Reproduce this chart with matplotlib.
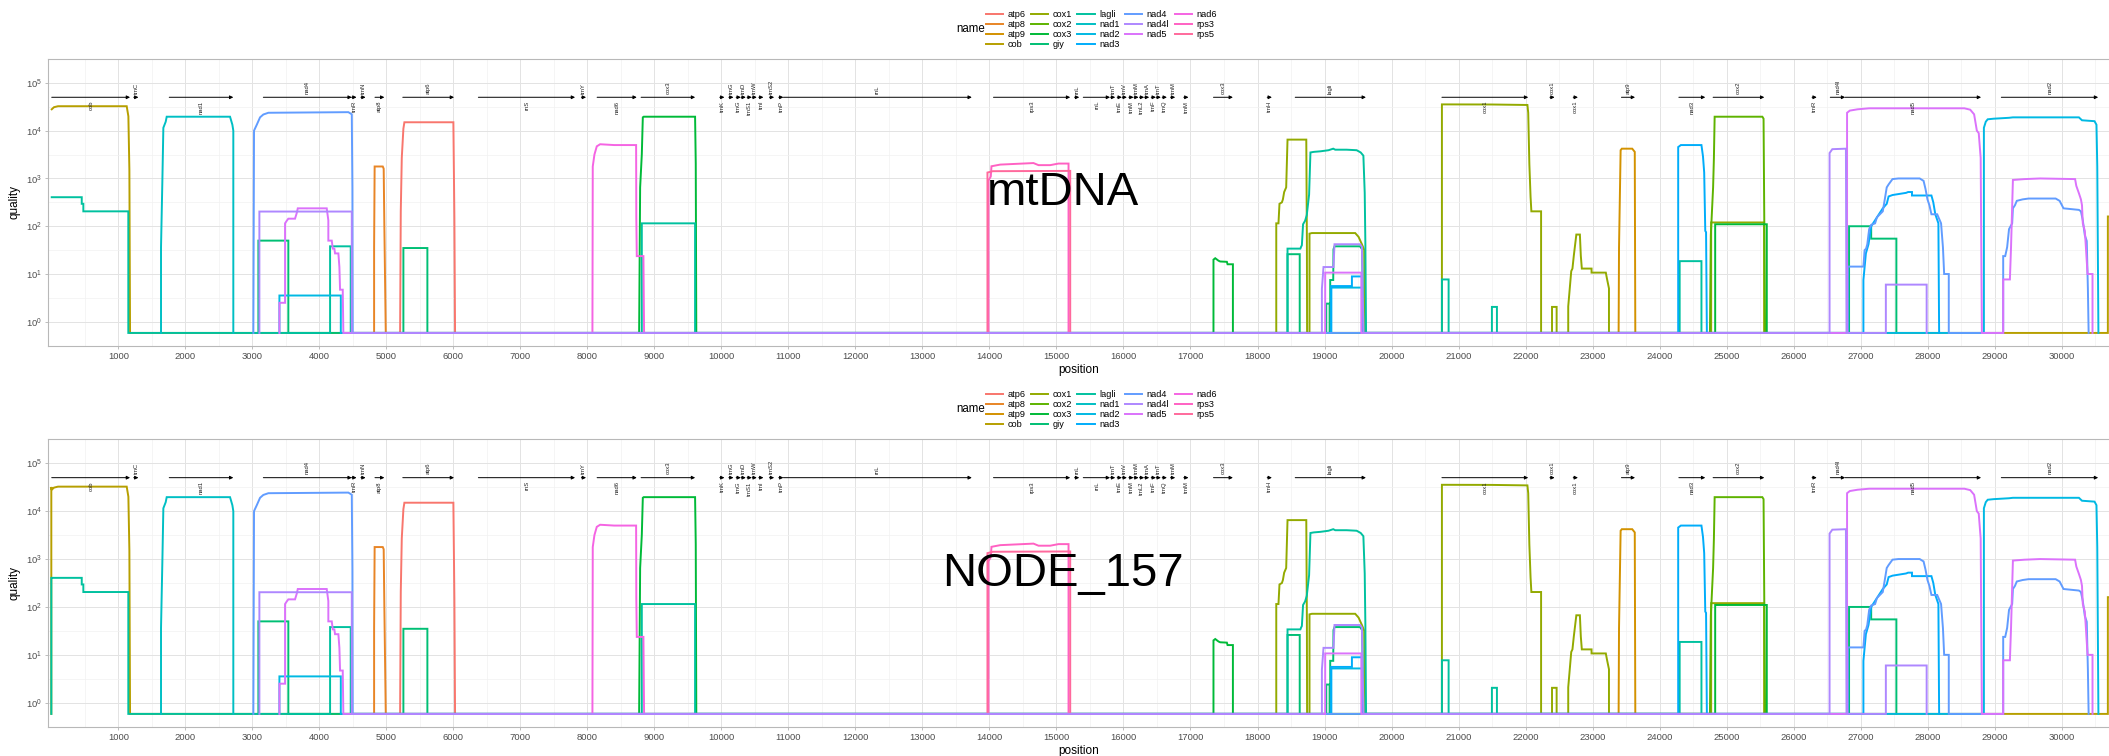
import numpy as np
import matplotlib
matplotlib.use("Agg")
import matplotlib.pyplot as plt
from matplotlib.lines import Line2D

plt.rcParams['font.family'] = ['Liberation Sans', 'DejaVu Sans']
plt.rcParams['mathtext.fontset'] = 'custom'
plt.rcParams['mathtext.rm'] = 'Liberation Sans'
plt.rcParams['mathtext.it'] = 'Liberation Sans:italic'

# quality traces, (position, quality); 0 = no hit (drawn on the panel floor)
atp6 = [(5205, 0), (5215, 205), (5230, 2700), (5254, 11000), (5269, 15000), (6000, 15000),
        (6015, 150), (6025, 0)]
atp8 = [(4817, 0), (4817, 36), (4825, 1780), (4946, 1780), (4960, 1600), (4970, 100), (4991, 0)]
atp9 = [(23389, 0), (23395, 36), (23419, 3900), (23437, 4200), (23592, 4200), (23610, 3900),
        (23630, 3600), (23638, 0)]
cob = [(6, 28000), (40, 31000), (100, 32500), (1125, 32500), (1150, 20000), (1165, 1500), (1175, 0),
       (30690, 0), (30690, 160), (30720, 160)]
cox1 = [(18280, 0), (18280, 115), (18313, 115), (18328, 295), (18364, 316), (18379, 365),
        (18398, 520), (18428, 650), (18448, 6500), (18728, 6500), (18737, 49), (18740, 0),
        (18776, 0), (18776, 70), (18811, 72), (19458, 72), (19508, 60), (19558, 42), (19592, 32),
        (19608, 0),
        (20752, 0), (20752, 35500), (21500, 35300), (22028, 34500), (22040, 23700), (22057, 2000),
        (22075, 410), (22087, 205), (22232, 205), (22232, 0),
        (22395, 0), (22395, 2.05), (22464, 2.05), (22464, 0),
        (22637, 0), (22637, 2.1), (22682, 11.5), (22700, 13), (22720, 24), (22758, 67),
        (22811, 67), (22825, 24), (22840, 13), (22985, 13), (22985, 10.7), (23198, 10.7),
        (23215, 8), (23245, 5), (23245, 0),
        (24770, 0), (24770, 120), (25560, 120), (25560, 0)]
cox2 = [(24752, 0), (24765, 65), (24799, 650), (24811, 2700), (24822, 19600), (25534, 19600),
        (25552, 17800), (25563, 115), (25575, 0)]
cox3 = [(8772, 0), (8787, 650), (8812, 3200), (8827, 19000), (8840, 19600), (9607, 19600),
        (9617, 2050), (9625, 0),
        (17343, 0), (17343, 20), (17369, 21.4), (17418, 19), (17443, 18.3), (17543, 18),
        (17553, 16), (17633, 16), (17633, 0),
        (24830, 0), (24830, 110), (25600, 110), (25600, 0)]
giy = [(3090, 0), (3090, 50), (3537, 50), (3537, 0),
       (5254, 0), (5254, 35), (5612, 35), (5612, 0),
       (18448, 0), (18448, 26), (18630, 26), (18630, 0),
       (19026, 0), (19026, 2.4), (19076, 2.4), (19076, 0),
       (19085, 0), (19085, 7.5), (19130, 7.5), (19134, 33), (19150, 38), (19530, 38),
       (19560, 33), (19585, 0),
       (26828, 0), (26828, 100), (27158, 100), (27158, 55), (27534, 55), (27534, 0)]
lagli = [(6, 405), (454, 405), (454, 295), (478, 295), (478, 205), (1149, 205), (1149, 0),
         (4160, 0), (4160, 38), (4468, 38), (4468, 0),
         (8812, 0), (8812, 115), (9607, 115), (9607, 0),
         (18448, 0), (18448, 34), (18640, 34), (18650, 37), (18662, 40), (18680, 110),
         (18710, 130), (18735, 170), (18770, 460), (18790, 3500), (18840, 3600), (18940, 3700),
         (19060, 3900), (19130, 4200), (19160, 4000), (19330, 4000), (19480, 3900),
         (19540, 3500), (19580, 3000), (19600, 500), (19610, 40), (19620, 0),
         (20752, 0), (20752, 7.7), (20852, 7.7), (20852, 0),
         (21498, 0), (21498, 2.05), (21573, 2.05), (21573, 0),
         (24300, 0), (24300, 18.6), (24625, 18.6), (24625, 0)]
nad1 = [(1637, 0), (1637, 36), (1657, 860), (1672, 11500), (1707, 15400), (1722, 19600),
        (2667, 19600), (2702, 13300), (2716, 10000), (2716, 0)]
nad2 = [(3404, 0), (3404, 3.55), (4320, 3.55), (4320, 0),
        (19100, 0), (19100, 5.2), (19560, 5.2), (19560, 0),
        (28840, 0), (28840, 11500), (28868, 15400), (28897, 17300), (28984, 17800),
        (29215, 18600), (29273, 19000), (30258, 19000), (30304, 16500), (30491, 15800),
        (30520, 13300), (30532, 1780), (30549, 0)]
nad3 = [(19100, 0), (19100, 5.6), (19409, 5.6), (19409, 8.9), (19558, 8.9), (19558, 0),
        (24278, 0), (24278, 4540), (24318, 5000), (24625, 5000), (24648, 2900), (24666, 1330),
        (24682, 80), (24694, 75), (24706, 0),
        (27042, 0), (27042, 7.5), (27079, 27), (27118, 42), (27158, 100), (27186, 115),
        (27331, 237), (27390, 295), (27418, 420), (27476, 450), (27679, 500), (27709, 520),
        (27767, 520), (27767, 440), (28057, 440), (28085, 316), (28115, 178), (28161, 115),
        (28172, 0)]
nad4 = [(3015, 0), (3025, 10000), (3066, 13300), (3115, 19000), (3164, 21800), (3239, 23700),
        (4433, 24400), (4484, 22000), (4493, 650), (4498, 0),
        (26810, 0), (26810, 14.3), (27042, 14.3), (27060, 31.6), (27082, 34), (27100, 42),
        (27128, 87), (27158, 107), (27216, 115), (27244, 154), (27331, 205), (27361, 365),
        (27390, 650), (27418, 750), (27476, 970), (27564, 1000), (27882, 1000), (27940, 890),
        (27969, 600), (27998, 365), (28027, 275), (28057, 178), (28143, 178), (28201, 115),
        (28229, 36), (28247, 10), (28316, 10), (28316, 0),
        (29128, 0), (29128, 23.7), (29158, 23.7), (29187, 36.5), (29215, 87), (29262, 115),
        (29273, 237), (29303, 274), (29331, 340), (29418, 365), (29506, 380), (29911, 380),
        (29970, 340), (30028, 237), (30258, 220), (30288, 205), (30316, 133), (30346, 65),
        (30375, 49), (30392, 4.9), (30403, 0)]
nad4l = [(3105, 0), (3105, 203), (4484, 203), (4484, 0),
         (18961, 0), (18961, 4.9), (18985, 14), (19134, 14), (19149, 42), (19533, 42),
         (19558, 37), (19582, 0),
         (26537, 0), (26537, 3400), (26578, 4100), (26781, 4200), (26790, 0),
         (27377, 0), (27377, 6), (27986, 6), (27986, 0)]
nad5 = [(3404, 0), (3404, 2.5), (3488, 2.5), (3488, 115), (3513, 130), (3537, 144), (3637, 144),
        (3663, 190), (3678, 237), (4110, 237), (4134, 133), (4134, 50), (4185, 50), (4200, 34),
        (4224, 34), (4234, 27), (4284, 27), (4299, 14), (4309, 4.7), (4349, 4.7), (4358, 0),
        (19010, 0), (19010, 10.7), (19550, 10.7), (19550, 0),
        (26798, 0), (26798, 23700), (26839, 26300), (26955, 28000), (27128, 29400),
        (28549, 29400), (28636, 27500), (28694, 22000), (28735, 10000), (28763, 8900),
        (28792, 2700), (28810, 0),
        (29128, 0), (29128, 7.7), (29228, 7.7), (29245, 36.5), (29273, 930), (29448, 970),
        (29678, 1000), (30201, 970), (30219, 700), (30258, 490), (30288, 365), (30304, 275),
        (30316, 115), (30346, 80), (30358, 45), (30387, 10), (30461, 10), (30461, 0)]
nad6 = [(8075, 0), (8080, 1780), (8105, 3160), (8140, 4700), (8190, 5200), (8400, 5000),
        (8727, 5000), (8730, 154), (8737, 23.7), (8836, 23.7), (8846, 0)]
rps3 = [(13985, 0), (13985, 900), (14020, 1100), (14030, 1800), (14160, 1950), (14657, 2100),
        (14732, 1900), (14906, 1900), (15030, 2050), (15180, 2050), (15180, 0)]
rps5 = [(13970, 0), (13970, 1330), (14050, 1420), (15205, 1440), (15205, 0)]

# the NODE_157 trace starts from zero at the contig start for these two
node_lead_cob = [(0, 0), (0, 32000)]
node_lead_lagli = [(0, 0), (0, 405)]

gene_names = ['atp6', 'atp8', 'atp9', 'cob', 'cox1', 'cox2', 'cox3', 'giy', 'lagli', 'nad1',
              'nad2', 'nad3', 'nad4', 'nad4l', 'nad5', 'nad6', 'rps3', 'rps5']
traces = [atp6, atp8, atp9, cob, cox1, cox2, cox3, giy, lagli, nad1,
          nad2, nad3, nad4, nad4l, nad5, nad6, rps3, rps5]

# annotated features: name, start, end
feat_names = ['cob', 'trnC', 'nad1', 'nad4', 'trnR', 'trnN', 'atp8', 'atp6', 'rnS', 'trnY',
              'nad6', 'cox3', 'trnK', 'trnG', 'trnG', 'trnD', 'trnS1', 'trnW', 'trnI', 'trnS2',
              'trnP', 'rnL', 'rps3', 'rnL', 'rnL', 'trnT', 'trnE', 'trnV', 'trnM', 'trnM',
              'trnL2', 'trnA', 'trnF', 'trnT', 'trnQ', 'trnM', 'trnM', 'cox3', 'trnH', 'lagli',
              'cox1', 'cox1', 'cox1', 'atp9', 'nad3', 'cox2', 'trnR', 'nad4l', 'nad5', 'nad2']
feat_start = [6, 1230, 1760, 3164, 4480, 4620, 4830, 5245, 6373, 7910,
              8145, 8801, 9975, 10110, 10220, 10294, 10383, 10458, 10557, 10717,
              10855, 10925, 14060, 15270, 15400, 15807, 15906, 15981, 16080, 16155,
              16239, 16314, 16414, 16488, 16578, 16702, 16900, 17343, 18145, 18563,
              20752, 22364, 22712, 23431, 24288, 24799, 26276, 26548, 26770, 29100]
feat_end = [1175, 1300, 2716, 4484, 4555, 4690, 4970, 6010, 7816, 7980,
            8737, 9608, 10045, 10180, 10290, 10364, 10453, 10528, 10627, 10787,
            10925, 13737, 15205, 15340, 15800, 15877, 15976, 16051, 16150, 16225,
            16309, 16384, 16484, 16558, 16648, 16772, 16970, 17633, 18215, 19618,
            22040, 22434, 22782, 23634, 24682, 25563, 26346, 26770, 28798, 30545]
feat_y = 5e4

panel_labels = ['mtDNA', 'NODE_157']


def hue_colour(h, c=100.0, l=65.0):
    # polar Luv -> sRGB, like R's hcl()
    xn, yn, zn = 95.047, 100.0, 108.883
    un = 4 * xn / (xn + 15 * yn + 3 * zn)
    vn = 9 * yn / (xn + 15 * yn + 3 * zn)
    u = c * np.cos(np.deg2rad(h))
    v = c * np.sin(np.deg2rad(h))
    Y = yn * ((l + 16) / 116) ** 3
    up = u / (13 * l) + un
    vp = v / (13 * l) + vn
    X = Y * 9 * up / (4 * vp)
    Z = Y * (12 - 3 * up - 20 * vp) / (4 * vp)
    X, Y, Z = X / 100, Y / 100, Z / 100
    rgb = np.array([3.240479 * X - 1.537150 * Y - 0.498535 * Z,
                    -0.969256 * X + 1.875992 * Y + 0.041556 * Z,
                    0.055648 * X - 0.204043 * Y + 1.057311 * Z])
    rgb = np.where(rgb <= 0.0031308, 12.92 * rgb, 1.055 * np.clip(rgb, 0, None) ** (1 / 2.4) - 0.055)
    return tuple(np.clip(rgb, 0, 1))


n = len(gene_names)
colours = [hue_colour(15 + 360.0 / n * i) for i in range(n)]

ylo, yhi = 0.585, 1.40e5
xlo, xhi = -45, 30707

fig = plt.figure(figsize=(21.09, 7.56), dpi=100)
ax_top = fig.add_axes([48.3 / 2109, 1 - 345.7 / 756, 1 - 48.3 / 2109, 286.7 / 756])
ax_bot = fig.add_axes([48.3 / 2109, 1 - 726.7 / 756, 1 - 48.3 / 2109, 287.4 / 756])

# nad4l drawn last so its floor line shows, as in the original
draw_order = [i for i in range(n) if gene_names[i] != 'nad4l'] + [gene_names.index('nad4l')]

for ax, label in zip([ax_top, ax_bot], panel_labels):
    ax.set_yscale('log')
    ax.set_xlim(xlo, xhi)
    ax.set_ylim(ylo, yhi)

    ax.set_xticks(np.arange(1000, 30001, 1000))
    ax.set_xticks(np.arange(500, 30701, 1000), minor=True)
    ax.set_yticks([10.0 ** k for k in range(6)])
    ax.set_yticklabels([r'$10^{%d}$' % k for k in range(6)])
    ax.set_yticks([10.0 ** (k + 0.5) for k in range(-1, 6)], minor=True)
    ax.yaxis.set_minor_formatter(plt.NullFormatter())
    ax.grid(True, which='major', color='#E3E3E3', lw=0.7)
    ax.grid(True, which='minor', color='#F1F1F1', lw=0.5)
    ax.set_axisbelow(True)
    ax.tick_params(which='major', length=2.5, width=0.6, color='#B3B3B3',
                   labelsize=6.8, labelcolor='#4D4D4D', pad=2)
    ax.tick_params(which='minor', length=0)
    for s in ['left', 'bottom', 'top']:
        ax.spines[s].set_color('#B8B8B8')
        ax.spines[s].set_linewidth(0.8)
    ax.spines['right'].set_visible(False)

    ax.set_xlabel('position', fontsize=8.5, labelpad=2)
    ax.set_ylabel('quality', fontsize=8.5, labelpad=4)

    for i in draw_order:
        pts = traces[i]
        if label == 'NODE_157' and gene_names[i] == 'cob':
            pts = node_lead_cob + pts
        if label == 'NODE_157' and gene_names[i] == 'lagli':
            pts = node_lead_lagli + pts
        xs = [p[0] for p in pts]
        ys = [max(p[1], ylo) for p in pts]
        ax.plot(xs, ys, color=colours[i], lw=1.4, solid_joinstyle='miter')

    for k, (fn, fs, fe) in enumerate(zip(feat_names, feat_start, feat_end)):
        ax.annotate('', xy=(fe, feat_y), xytext=(fs, feat_y),
                    arrowprops=dict(arrowstyle='-|>', color='black', lw=0.7,
                                    mutation_scale=5, shrinkA=0, shrinkB=0))
        mid = (fs + fe) / 2
        if k % 2 == 0:
            ax.annotate(fn, xy=(mid, feat_y), xytext=(0, -2.5), textcoords='offset points',
                        rotation=90, rotation_mode='anchor', ha='right', va='center',
                        fontsize=4.2, color='#222222')
        else:
            ax.annotate(fn, xy=(mid, feat_y), xytext=(0, 2.5), textcoords='offset points',
                        rotation=90, rotation_mode='anchor', ha='left', va='center',
                        fontsize=4.2, color='#222222')

    ax.text(15100, 490, label, fontsize=34, ha='center', va='center', color='black')

# one legend above each panel
handles = [Line2D([], [], color=colours[i], lw=1.4) for i in range(n)]
for yc in [1 - 29.5 / 756, 1 - 409.5 / 756]:
    fig.legend(handles, gene_names, loc='center left', bbox_to_anchor=(986 / 2109, yc),
               ncol=5, frameon=False, fontsize=6.6, handlelength=1.9, handletextpad=0.45,
               columnspacing=0.6, labelspacing=0.12, borderpad=0, borderaxespad=0)
    fig.text(970.7 / 2109, yc, 'name', fontsize=8.3, ha='center', va='center')

fig.savefig('out.png', dpi=100)
